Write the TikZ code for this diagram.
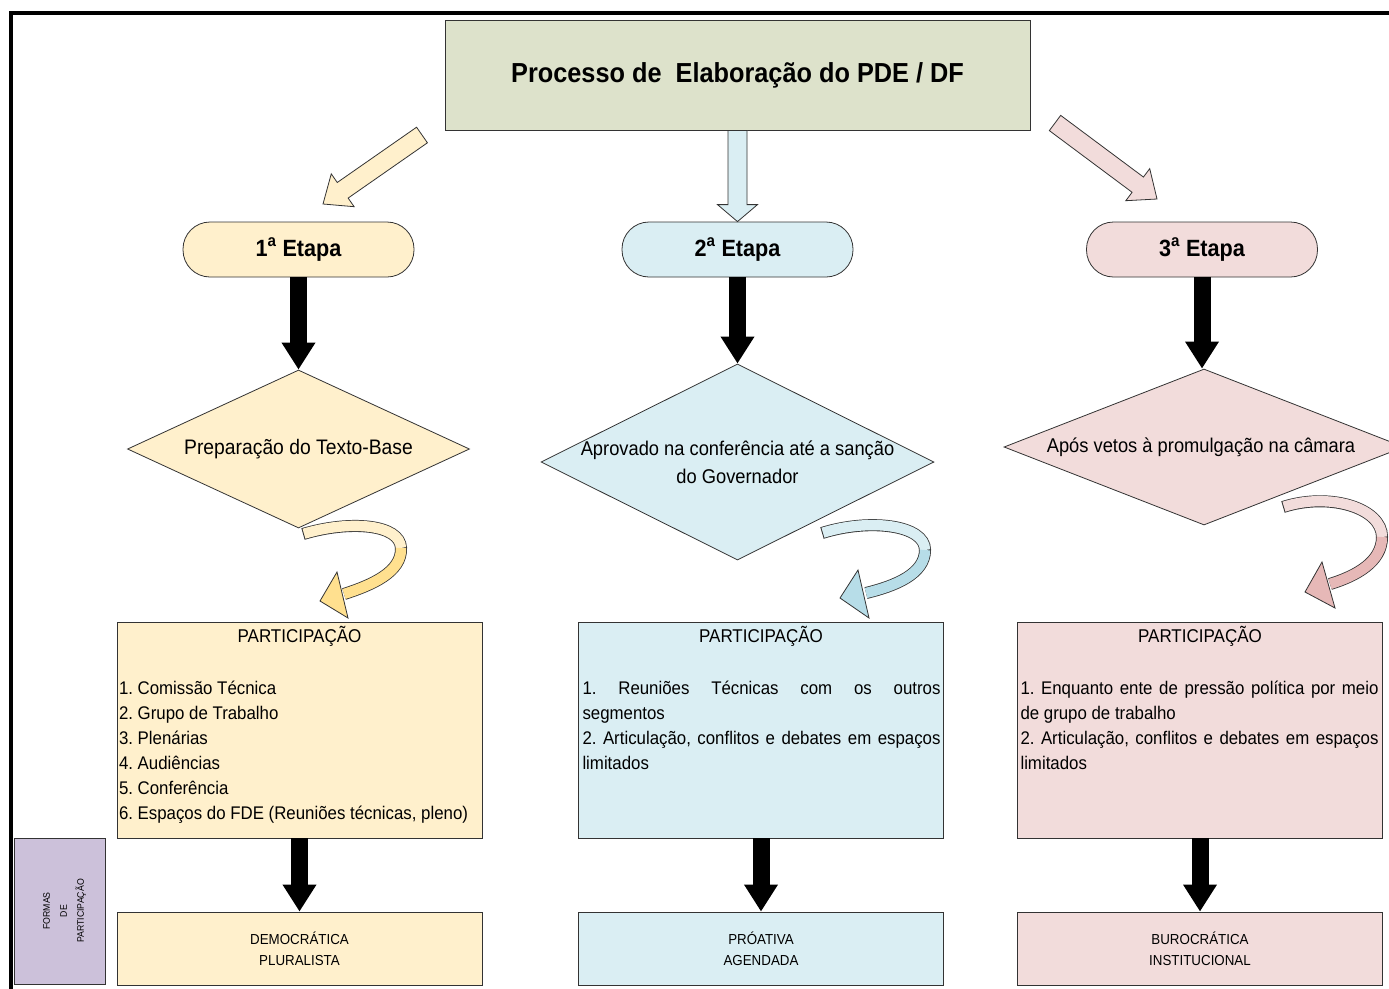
\documentclass[tikz,border=0pt]{standalone}
\usepackage{fontspec}
\setmainfont{Liberation Sans}[FakeStretch=0.92]
\usetikzlibrary{shapes.geometric,calc,positioning,arrows.meta}
\frenchspacing

\definecolor{titlefill}{HTML}{DDE2CB}
\definecolor{creamfill}{HTML}{FFF0CC}
\definecolor{bluefill}{HTML}{DAEEF3}
\definecolor{pinkfill}{HTML}{F2DCDB}
\definecolor{lilacfill}{HTML}{CCC1DA}
\definecolor{creamdark}{HTML}{FFE08F}
\definecolor{bluedark}{HTML}{B7DDE8}
\definecolor{pinkdark}{HTML}{E6B8B7}

\newcommand\fsz[2]{\fontsize{#1}{#2}\selectfont}

% block arrow: fill, from, to, shaft half width, head half width, head length
\newcommand\blocoseta[6]{%
  \coordinate (bs-h) at ($(#3)!#6!(#2)$);
  \draw[draw=black!80, fill=#1, line join=miter]
    ($(#2)!#4!90:(#3)$) -- ($(bs-h)!#4!90:(#3)$) -- ($(bs-h)!#5!90:(#3)$) -- (#3)
    -- ($(bs-h)!#5!-90:(#3)$) -- ($(bs-h)!#4!-90:(#3)$) -- ($(#2)!#4!-90:(#3)$) -- cycle;
}

\tikzset{
  titlebox/.style={rectangle, draw=black!80, fill=titlefill, minimum width=585pt, minimum height=110pt, font=\fsz{27.5}{30}\bfseries},
  etapabox/.style={rectangle, rounded corners=27pt, draw=black!80, fill=#1, minimum width=231pt, minimum height=55pt, font=\fsz{23.5}{26}\bfseries},
  losango/.style={diamond, draw=black!80, fill=#1, inner sep=0pt},
  partbox/.style={rectangle, draw=black!80, fill=#1, minimum width=365pt, minimum height=216pt},
  formabox/.style={rectangle, draw=black!80, fill=#1, minimum width=365pt, minimum height=73pt, align=center, font=\fsz{14.5}{21}},
  seta/.style={line width=17pt, -{Triangle[length=27pt 0 0, width=32pt 0 0]}},
  fitaborda/.style={line width=12pt, draw=black!80},
  fitamiolo/.style={line width=10.4pt, draw=#1},
  cabeca/.style={draw=black!80, fill=#1, line join=miter},
  lista/.style={anchor=north west, inner sep=0pt, align=left, font=\fsz{18.3}{25}},
  cabecalho/.style={anchor=north, inner sep=0pt, font=\fsz{18.5}{22}}
}

\begin{document}
\begin{tikzpicture}[x=1pt, y=-1pt, line width=0.8pt]
    \useasboundingbox (0,0) rectangle (1389,988);
    \fill[white] (0,0) rectangle (1389,988);
    % frame
    \draw[line width=4pt] (11,1000) -- (11,13) -- (1400,13);
    % nodes
    \node[titlebox] (titulo) at (737.5,75) {Processo de\ \ Elaboração do PDE / DF};
    \node[etapabox=creamfill] (etapa1) at (298.5,249.5) {1\textsuperscript{a} Etapa};
    \node[etapabox=bluefill] (etapa2) at (737.5,249.5) {2\textsuperscript{a} Etapa};
    \node[etapabox=pinkfill] (etapa3) at (1202,249.5) {3\textsuperscript{a} Etapa};

    \node[losango=creamfill, minimum width=342pt, minimum height=158pt] (passo1) at (298.5,449) {};
    \node[font=\fsz{21}{24}] (texto1) at (passo1) {Preparação do Texto-Base};
    \node[losango=bluefill, minimum width=393pt, minimum height=196pt] (passo2) at (737.5,462) {};
    \node[font=\fsz{19.9}{28}, align=center] (texto2) at (passo2) {Aprovado na conferência até a sanção\\do Governador};
    \node[losango=pinkfill, minimum width=400pt, minimum height=156pt] (passo3) at (1204,447) {};
    \node[font=\fsz{19.9}{24}] (texto3) at (1201,447) {Após vetos à promulgação na câmara};

    \node[partbox=creamfill] (part1) at (299.5,730) {};
    \node[partbox=bluefill] (part2) at (761,730) {};
    \node[partbox=pinkfill] (part3) at (1200,730) {};
    \node[cabecalho] (cab1) at ([shift={(0,4.5)}]part1.north) {PARTICIPAÇÃO};
    \node[cabecalho] (cab2) at ([shift={(0,4.5)}]part2.north) {PARTICIPAÇÃO};
    \node[cabecalho] (cab3) at ([shift={(0,4.5)}]part3.north) {PARTICIPAÇÃO};
    \node[lista] (lista1) at ([shift={(2,59)}]part1.north west) {1. Comissão Técnica\\2. Grupo de Trabalho\\3. Plenárias\\4. Audiências\\5. Conferência\\6. Espaços do FDE (Reuniões técnicas, pleno)};
    \node[lista] (lista2) at ([shift={(4,59)}]part2.north west) {\makebox[358pt][s]{1. Reuniões Técnicas com os outros}\\segmentos\\\makebox[358pt][s]{2. Articulação, conflitos e debates em espaços}\\limitados};
    \node[lista] (lista3) at ([shift={(3,59)}]part3.north west) {\makebox[358pt][s]{1. Enquanto ente de pressão política por meio}\\de grupo de trabalho\\\makebox[358pt][s]{2. Articulação, conflitos e debates em espaços}\\limitados};

    \node[formabox=creamfill] (forma1) at (299.5,948.5) {DEMOCRÁTICA\\PLURALISTA};
    \node[formabox=bluefill] (forma2) at (761,948.5) {PRÓATIVA\\AGENDADA};
    \node[formabox=pinkfill] (forma3) at (1200,948.5) {BUROCRÁTICA\\INSTITUCIONAL};
    \node[rectangle, draw=black!80, fill=lilacfill, minimum width=91pt, minimum height=146pt] (formas) at (59.5,911) {};
    \node[rotate=90, align=center, font=\fsz{9.5}{17}] (formastexto) at ([xshift=5pt]formas.center) {FORMAS\\DE\\PARTICIPAÇÃO};

    % block arrows from the title
    \coordinate (s1a) at (422,135);
    \coordinate (s1b) at (323,204);
    \coordinate (s3a) at (1055,123);
    \coordinate (s3b) at (1157,199);
    \blocoseta{creamfill}{s1a}{s1b}{9.5pt}{20pt}{24pt}
    \blocoseta{bluefill}{titulo.south}{etapa2.north}{9.5pt}{20pt}{17pt}
    \blocoseta{pinkfill}{s3a}{s3b}{9.5pt}{20pt}{24pt}

    % black arrows
    \draw[seta] (etapa1.south) -- (etapa1.south |- passo1.north);
    \draw[seta] (etapa2.south) -- (etapa2.south |- passo2.north);
    \draw[seta] (etapa3.south) -- (etapa3.south |- passo3.north);
    \draw[seta] (part1.south) -- (forma1.north);
    \draw[seta] (part2.south) -- (forma2.north);
    \draw[seta] (part3.south) -- (forma3.north);

    % curved arrows
    \coordinate (f1a) at (303,534);
    \coordinate (f1b) at (401,548);
    \coordinate (f1c) at (344,594);
    \draw[fitaborda] (f1a) .. controls (350,520) and (400,524) .. (f1b) .. controls (402,572) and (372,585) .. (f1c);
    \draw[fitamiolo=creamfill, shorten <=1pt] (f1a) .. controls (350,520) and (400,524) .. (f1b);
    \draw[fitamiolo=creamdark] (f1b) .. controls (402,572) and (372,585) .. (f1c);
    \draw[cabeca=creamdark] (320,601) -- (337,572) -- (348,618) -- cycle;

    \coordinate (f2a) at (822,533);
    \coordinate (f2b) at (925,550);
    \coordinate (f2c) at (866,593);
    \draw[fitaborda] (f2a) .. controls (870,518) and (925,525) .. (f2b) .. controls (925,574) and (895,586) .. (f2c);
    \draw[fitamiolo=bluefill, shorten <=1pt] (f2a) .. controls (870,518) and (925,525) .. (f2b);
    \draw[fitamiolo=bluedark] (f2b) .. controls (925,574) and (895,586) .. (f2c);
    \draw[cabeca=bluedark] (840,598) -- (858,570) -- (869,618) -- cycle;

    \coordinate (f3a) at (1283,507);
    \coordinate (f3b) at (1382,537);
    \coordinate (f3c) at (1330,584);
    \draw[fitaborda] (f3a) .. controls (1330,492) and (1382,508) .. (f3b) .. controls (1382,562) and (1356,576) .. (f3c);
    \draw[fitamiolo=pinkfill, shorten <=1pt] (f3a) .. controls (1330,492) and (1382,508) .. (f3b);
    \draw[fitamiolo=pinkdark] (f3b) .. controls (1382,562) and (1356,576) .. (f3c);
    \draw[cabeca=pinkdark] (1305,592) -- (1322,562) -- (1335,608) -- cycle;
\end{tikzpicture}
\end{document}
